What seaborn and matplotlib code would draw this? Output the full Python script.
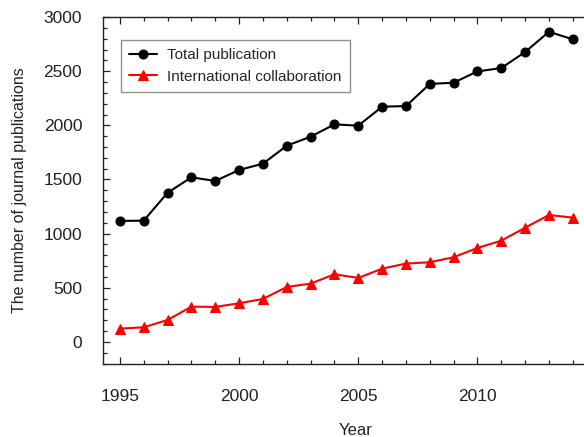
import matplotlib
matplotlib.use("Agg")
import matplotlib.pyplot as plt
import seaborn as sns
import pandas as pd
from matplotlib.ticker import MultipleLocator, FixedLocator

# data
years = list(range(1995, 2015))
total_pub = [1117, 1120, 1378, 1520, 1486, 1588, 1646, 1812, 1895, 2009,
             1997, 2172, 2178, 2382, 2394, 2498, 2529, 2677, 2864, 2794]
intl_collab = [123, 135, 203, 326, 323, 357, 397, 508, 538, 625,
               591, 677, 723, 736, 782, 868, 935, 1055, 1172, 1148]
year_ticks = [1995, 2000, 2005, 2010]

sns.set_style("ticks")
plt.rcParams['font.family'] = ['Liberation Sans', 'DejaVu Sans']

df = pd.DataFrame({"Year": years, "total": total_pub, "intl": intl_collab})

fig = plt.figure(figsize=(5.84, 4.37), dpi=100)
ax = fig.add_axes([0.1764, 0.168, 1.04 - 0.1764, 0.961 - 0.168])

sns.lineplot(data=df, x="Year", y="total", ax=ax, color="black", marker="o",
             markersize=6.5, markeredgecolor="black", linewidth=1.5,
             label="Total publication")
sns.lineplot(data=df, x="Year", y="intl", ax=ax, color="#ff0000", marker="^",
             markersize=7.5, markeredgecolor="#ff0000", linewidth=1.5,
             label="International collaboration")

ax.set_xlim(1994.29, 2015.45)
ax.set_ylim(-200, 3000)
ax.xaxis.set_major_locator(FixedLocator(year_ticks))
ax.xaxis.set_minor_locator(MultipleLocator(1))
ax.yaxis.set_major_locator(MultipleLocator(500))
ax.yaxis.set_minor_locator(MultipleLocator(100))
ax.tick_params(which="both", direction="in", top=True, bottom=True, left=True,
               right=False, colors="#222222", width=0.9)
ax.tick_params(which="major", length=5, labelsize=12.5, pad=15)
ax.tick_params(which="minor", length=3)
ax.tick_params(axis="x", which="major", pad=18)
for s in ["left", "top", "bottom"]:
    ax.spines[s].set_color("#222222")
    ax.spines[s].set_linewidth(1.0)
ax.spines["right"].set_visible(False)

ax.set_xlabel("Year", fontsize=12, labelpad=14, color="#222222")
ax.set_ylabel("The number of journal publications", fontsize=11.5, labelpad=12,
              color="#222222")

leg = ax.legend(loc="upper left", bbox_to_anchor=(0.02, 0.957), fontsize=11,
                frameon=True, fancybox=False, edgecolor="#777777",
                borderpad=0.55, handlelength=1.8, handletextpad=0.7,
                labelspacing=0.5)
leg.get_frame().set_linewidth(1.0)

fig.savefig("out.png", dpi=100)
